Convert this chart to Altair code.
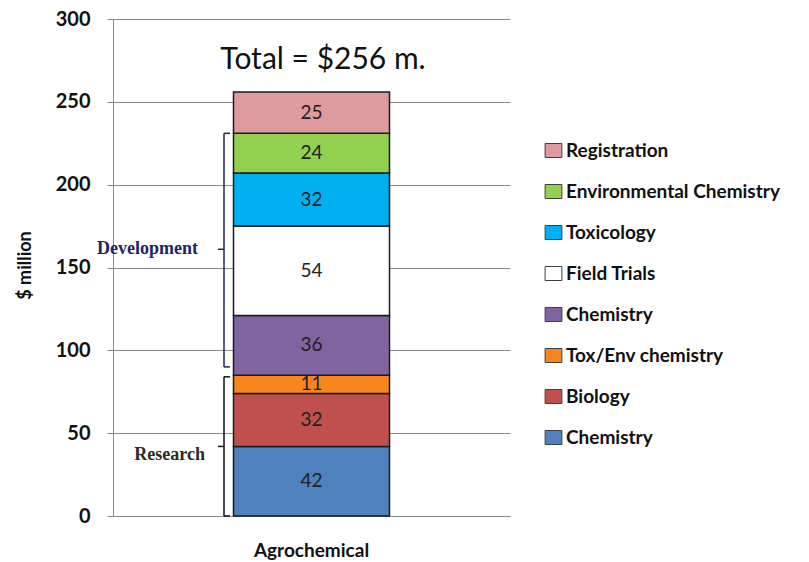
import altair as alt
import pandas as pd

# ---- data ----
group = "Agrochemical"
categories = ["Chemistry", "Biology", "Tox/Env chemistry", "Chemistry",
              "Field Trials", "Toxicology", "Environmental Chemistry", "Registration"]
values = [42, 32, 11, 36, 54, 32, 24, 25]
colors = ["#4F81BD", "#C0504D", "#F7861E", "#8064A2",
          "#FFFFFF", "#00B0F0", "#92D050", "#DE9A9E"]

bracket_names = ["Development", "Research"]
bracket_lo = [90, 0]
bracket_hi = [231, 84]
bracket_mid = [161, 42]
bracket_label_y = [161, 37]
bracket_colors = ["#1F2466", "#111111"]

total_label = "Total = $256 m."
y_ticks = [0, 50, 100, 150, 200, 250, 300]

# ---- tables ----
keys = [f"{i}|{c}" for i, c in enumerate(categories)]
df = pd.DataFrame({"group": group, "key": keys, "value": values,
                   "idx": list(range(len(values)))})
br = pd.DataFrame({"name": bracket_names, "lo": bracket_lo, "hi": bracket_hi,
                   "mid": bracket_mid, "ly": bracket_label_y, "col": bracket_colors})

yscale = alt.Scale(domain=[0, 300], nice=False, zero=True)
YT = "$ million"

base = alt.Chart(df).transform_stack(
    stack="value", groupby=["group"], as_=["y0", "y1"],
    sort=[alt.SortField("idx", order="ascending")]
).transform_calculate(ym="(datum.y0 + datum.y1) / 2")

xenc = alt.X("group:N", title=None,
             axis=alt.Axis(labelFont="Lato", labelFontSize=19, labelFontWeight="bold",
                           labelColor="#111", labelPadding=25, ticks=False,
                           domainColor="#8a8a8a", labelAngle=0))

bars = base.mark_bar(size=156, stroke="#1a1a1a", strokeWidth=1.5).encode(
    x=xenc,
    y=alt.Y("y0:Q", scale=yscale, title=YT,
            axis=alt.Axis(values=y_ticks, labelFont="Lato", labelFontSize=20,
                          labelFontWeight="bold", labelColor="#111",
                          tickColor="#8a8a8a", tickSize=6, labelPadding=17,
                          domainColor="#8a8a8a", gridColor="#8a8a8a",
                          titleFont="Lato", titleFontSize=18, titleFontWeight="bold",
                          titleColor="#111", titleX=-88, titleY=246,
                          titleBaseline="middle", titleAlign="center")),
    y2="y1:Q",
    color=alt.Color("key:N",
                    scale=alt.Scale(domain=keys[::-1], range=colors[::-1]),
                    legend=alt.Legend(
                        title=None, labelExpr="split(datum.value, '|')[1]",
                        orient="none", legendX=431, legendY=122,
                        symbolType="M-1.2,-1H1.2V1H-1.2Z", symbolSize=196,
                        symbolStrokeColor="#404040", symbolStrokeWidth=1,
                        labelFont="Lato", labelFontSize=19, labelFontWeight="bold",
                        labelColor="#111", labelOffset=3, rowPadding=21,
                        padding=0, labelLimit=400)),
)

seg_text = base.mark_text(font="Lato", fontSize=19, color="#202020",
                          baseline="middle").encode(
    x="group:N",
    y=alt.Y("ym:Q", scale=yscale, title=YT),
    text="value:Q",
)

bchart = alt.Chart(br)
vert = bchart.mark_rule(strokeWidth=1.5).encode(
    x=alt.value(111), y=alt.Y("lo:Q", scale=yscale, title=YT), y2="hi:Q",
    stroke=alt.Stroke("col:N", scale=None))
top_tick = bchart.mark_rule(strokeWidth=1.5).encode(
    x=alt.value(111), x2=alt.value(117), y=alt.Y("hi:Q", scale=yscale, title=YT),
    stroke=alt.Stroke("col:N", scale=None))
bot_tick = bchart.mark_rule(strokeWidth=1.5).encode(
    x=alt.value(111), x2=alt.value(117), y=alt.Y("lo:Q", scale=yscale, title=YT),
    stroke=alt.Stroke("col:N", scale=None))
mid_tick = bchart.mark_rule(strokeWidth=1.5).encode(
    x=alt.value(105), x2=alt.value(111), y=alt.Y("mid:Q", scale=yscale, title=YT),
    stroke=alt.Stroke("col:N", scale=None))

dev_label = alt.Chart(br.iloc[[0]]).mark_text(
    font="Liberation Serif", fontSize=18, fontWeight="bold", align="right",
    baseline="middle", color="#1F2466").encode(
    x=alt.value(85), y=alt.Y("ly:Q", scale=yscale, title=YT), text="name:N")
res_label = alt.Chart(br.iloc[[1]]).mark_text(
    font="Liberation Serif", fontSize=18, fontWeight="bold", align="right",
    baseline="middle", color="#2a2a2a").encode(
    x=alt.value(92), y=alt.Y("ly:Q", scale=yscale, title=YT), text="name:N")

total = alt.Chart(pd.DataFrame({"t": [total_label]})).mark_text(
    font="Lato", fontSize=30, align="center", baseline="alphabetic", color="#111").encode(
    x=alt.value(210), y=alt.value(50), text="t:N")

chart = alt.layer(bars, seg_text, vert, top_tick, bot_tick, mid_tick,
                  dev_label, res_label, total).properties(
    width=397, height=497,
    padding={"left": 113, "top": 19, "right": 299, "bottom": 46},
    autosize="none",
    background="white",
).configure_view(stroke=None)

chart.save("out.html", embed_options={"renderer": "svg", "actions": False})
